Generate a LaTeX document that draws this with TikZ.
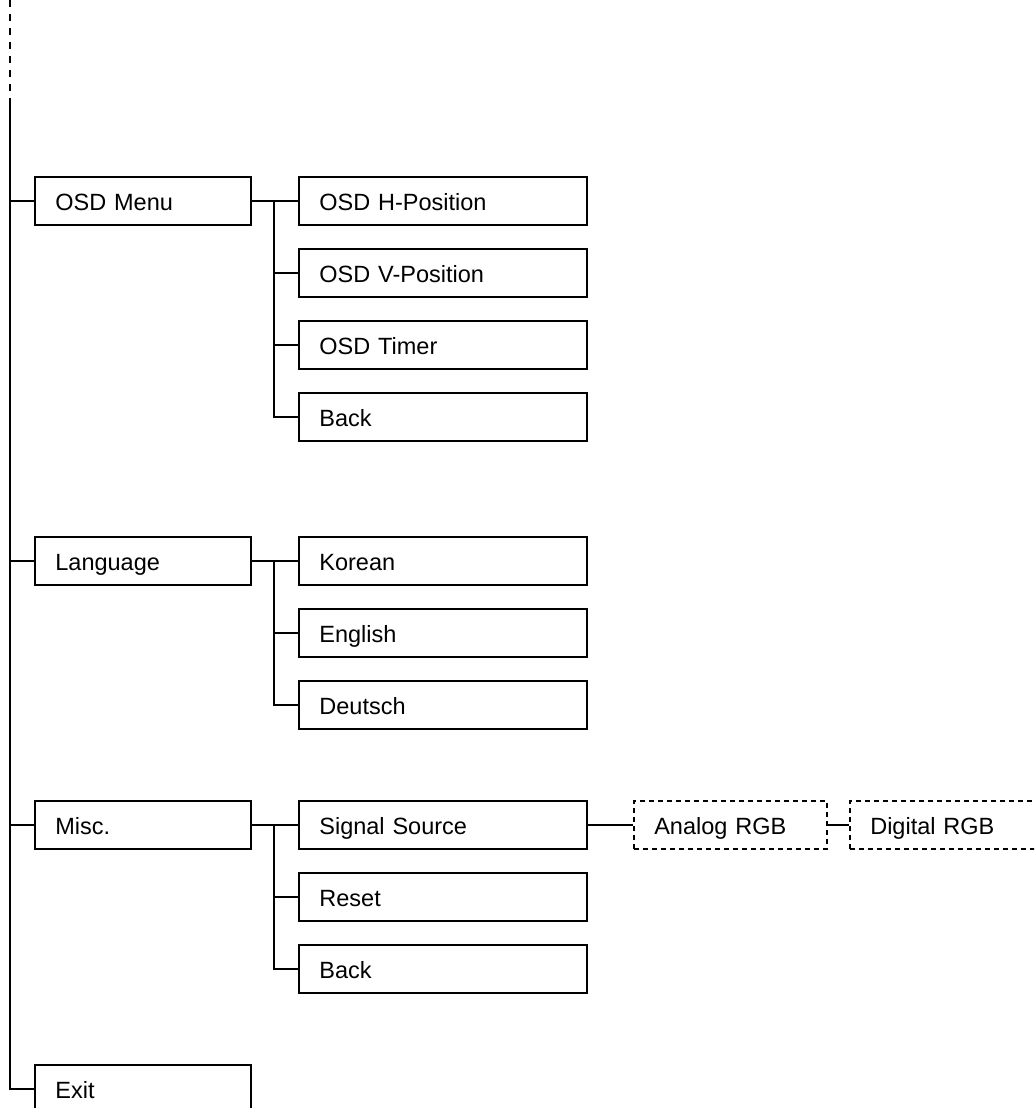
\documentclass[tikz,border=0pt]{standalone}
\usepackage{fontspec}
\setmainfont{Liberation Sans}
\begin{document}
\begin{tikzpicture}[x=1pt,y=-1pt,
  every node/.style={font=\fontsize{23.5}{28}\selectfont},
  box/.style={draw, line width=1.8pt, rectangle, minimum height=48pt, inner xsep=20.5pt, inner ysep=0pt, text height=18pt, text depth=0pt, align=left, anchor=west},
  lone/.style={box, text width=175pt},
  ltwo/.style={box, text width=247pt},
  lthree/.style={box, text width=152pt, line width=1.6pt, dash pattern=on 5pt off 4pt},
  conn/.style={line width=1.8pt},
]
\clip (0,0) rectangle (1034,1108);
\fill[white] (0,0) rectangle (1034,1108);

% level 1
\node[lone] (osd)  at (34,201) {OSD Menu};
\node[lone] (lang) at (34,561) {Language};
\node[lone] (misc) at (34,825) {Misc.};
\node[lone] (exit) at (34,1089) {Exit};

% level 2
\node[ltwo] (hpos)  at (298,201) {OSD H-Position};
\node[ltwo] (vpos)  at (298,273) {OSD V-Position};
\node[ltwo] (timer) at (298,345) {OSD Timer};
\node[ltwo] (back1) at (298,417) {Back};

\node[ltwo] (kor) at (298,561) {Korean};
\node[ltwo] (eng) at (298,633) {English};
\node[ltwo] (deu) at (298,705) {Deutsch};

\node[ltwo] (sig)   at (298,825) {Signal Source};
\node[ltwo] (reset) at (298,897) {Reset};
\node[ltwo] (back2) at (298,969) {Back};

% level 3
\node[lthree] (ana) at (633,825) {Analog RGB};
\node[lthree] (dig) at (849,825) {Digital RGB};

% trunk
\coordinate (top) at (10,0);
\coordinate (tsolid) at (10,104);
\draw[conn, dash pattern=on 7pt off 7pt] (top) -- (tsolid);
\draw[conn] (tsolid) |- (exit.west);
\foreach \n in {osd,lang,misc}{
  \draw[conn] (\n.west -| tsolid) -- (\n.west);
}

% OSD group
\coordinate (b1) at (274,201);
\draw[conn] (osd.east) -- (hpos.west);
\draw[conn] (b1) |- (back1.west);
\foreach \n in {vpos,timer}{\draw[conn] (\n.west -| b1) -- (\n.west);}

% Language group
\coordinate (b2) at (274,561);
\draw[conn] (lang.east) -- (kor.west);
\draw[conn] (b2) |- (deu.west);
\draw[conn] (eng.west -| b2) -- (eng.west);

% Misc group
\coordinate (b3) at (274,825);
\draw[conn] (misc.east) -- (sig.west);
\draw[conn] (b3) |- (back2.west);
\draw[conn] (reset.west -| b3) -- (reset.west);

\draw[conn] (sig.east) -- (ana.west);
\draw[conn] (ana.east) -- (dig.west);
\end{tikzpicture}
\end{document}
